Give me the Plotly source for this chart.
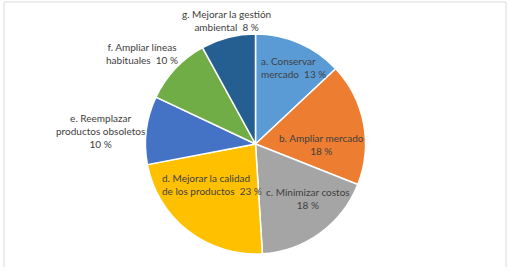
import plotly.graph_objects as go

categories = ["a. Conservar mercado", "b. Ampliar mercado", "c. Minimizar costos",
              "d. Mejorar la calidad de los productos", "e. Reemplazar productos obsoletos",
              "f. Ampliar líneas habituales", "g. Mejorar la gestión ambiental"]
values = [13, 18, 18, 23, 10, 10, 8]
label_text = ["a. Conservar<br>mercado  13 %", "b. Ampliar mercado<br>18 %",
              "c. Minimizar costos<br>18 %", "d. Mejorar la calidad<br>de los productos  23 %",
              "e. Reemplazar<br>productos obsoletos<br>10 %", "f. Ampliar líneas<br>habituales  10 %",
              "g. Mejorar la gestión<br>ambiental  8 %"]
colors = ["#5B9BD5", "#ED7D31", "#A5A5A5", "#FFC000", "#4472C4", "#70AD47", "#255E91"]

W, H = 510, 275
cx, cy, r = 255.5, 144, 110

fig = go.Figure(go.Pie(
    labels=categories, values=values, sort=False, direction="clockwise", rotation=0,
    marker=dict(colors=colors, line=dict(color="white", width=1.5)),
    textinfo="none", hoverinfo="label+percent", showlegend=False,
    domain=dict(x=[(cx - r) / W, (cx + r) / W], y=[(H - cy - r) / H, (H - cy + r) / H]),
))

# label anchor positions (pixels) and alignment
label_pos = [(259, 67.5, "left"), (321, 144.5, "center"), (308, 198, "center"),
             (160, 184.5, "left"), (100, 130.5, "center"), (142, 53.5, "center"),
             (226, 20, "center")]
for txt, (px, py, al) in zip(label_text, label_pos):
    fig.add_annotation(
        x=px / W, y=1 - py / H, xref="paper", yref="paper", text=txt, showarrow=False,
        xanchor="left" if al == "left" else "center", yanchor="middle", align=al,
        font=dict(family="Lato, Liberation Sans, Arial", size=10, color="#404040"),
    )

x0, x1, yt, yb = 4 / W, 506 / W, 1 - 2 / H, 1 - 267 / H
fig.add_shape(type="path", xref="paper", yref="paper",
              path=f"M {x0} {yb} L {x0} {yt} L {x1} {yt} L {x1} {yb}",
              line=dict(color="#D9D9D9", width=1))

fig.update_layout(width=W, height=H, margin=dict(l=0, r=0, t=0, b=0),
                  paper_bgcolor="white", plot_bgcolor="white")
fig.write_html("out.html", config={"displayModeBar": False},
               post_script="document.body.style.margin='0';document.body.style.overflow='hidden';")
